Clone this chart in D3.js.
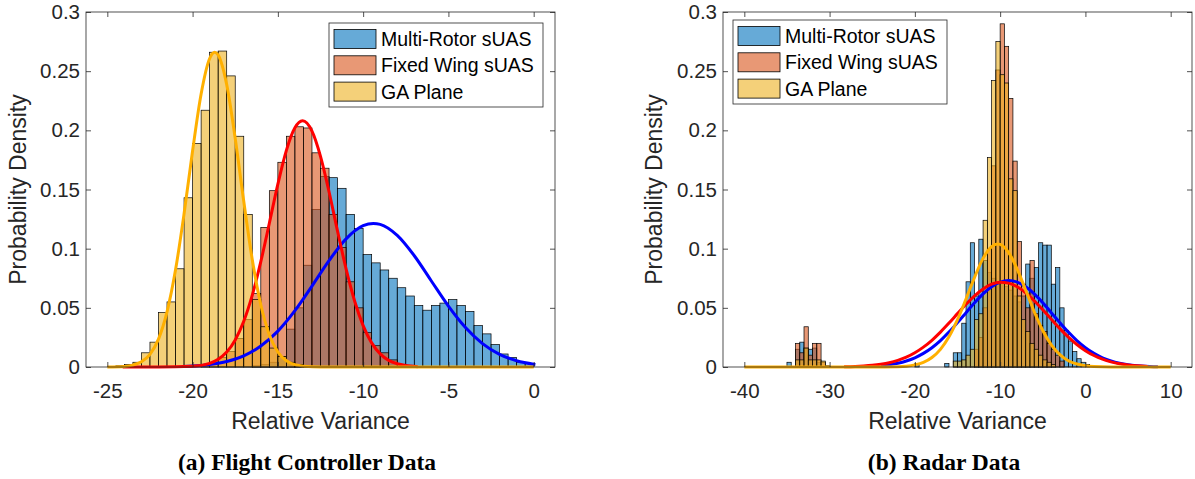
<!DOCTYPE html>
<html>
<head>
<meta charset="utf-8">
<script src="https://cdn.jsdelivr.net/npm/d3@7"></script>
<style>
  body { margin: 0; background: #fff; }
  svg { display: block; }
</style>
</head>
<body>
<svg id="chart" width="1195" height="479"></svg>
<script>
// histogram bins are 0.5 wide, values are probability densities
const binWidth = 0.5;
const seriesNames = ['Multi-Rotor sUAS', 'Fixed Wing sUAS', 'GA Plane'];
const yTicks = [0, 0.05, 0.1, 0.15, 0.2, 0.25, 0.3];

// (a) Flight Controller Data
const fcXTicks = [-25, -20, -15, -10, -5, 0];
const fcMultiStart = -16.5;
const fcMulti = [0.001, 0.002, 0.004, 0.009, 0.032, 0.050, 0.086, 0.133, 0.161, 0.160,
  0.151, 0.129, 0.117, 0.095, 0.088, 0.082, 0.075, 0.067, 0.060, 0.052,
  0.048, 0.052, 0.054, 0.057, 0.052, 0.047, 0.035, 0.028, 0.019, 0.011,
  0.008, 0.004, 0.003];
const fcFixedStart = -19.5;
const fcFixed = [0.002, 0.004, 0.008, 0.013, 0.024, 0.040, 0.062, 0.118, 0.149, 0.173,
  0.195, 0.203, 0.202, 0.181, 0.168, 0.129, 0.101, 0.072, 0.050, 0.029,
  0.018, 0.012, 0.006, 0.002];
const fcGaStart = -24.5;
const fcGa = [0.001, 0.002, 0.004, 0.012, 0.021, 0.046, 0.055, 0.083, 0.143, 0.189,
  0.217, 0.266, 0.267, 0.246, 0.195, 0.129, 0.057, 0.034, 0.016, 0.009,
  0.004, 0.002];

// fitted normal curves
const fcMultiFitX = [-20.6, -20, -19, -18, -17, -16, -15, -14, -13, -12, -11, -10, -9.4, -9, -8, -7, -6, -5, -4, -3, -2, -1, 0, 0.1];
const fcMultiFitY = [0.0005, 0.0008, 0.0021, 0.0046, 0.0094, 0.0177, 0.0303, 0.0476, 0.0684, 0.0899, 0.1083, 0.1194, 0.1213, 0.1205, 0.1112, 0.0940, 0.0727, 0.0515, 0.0334, 0.0198, 0.0107, 0.0053, 0.0024, 0.0022];
const fcFixedFitX = [-24.1, -22, -20, -19, -18.5, -18, -17.5, -17, -16.5, -16, -15.5, -15, -14.5, -14, -13.55, -13, -12.5, -12, -11.5, -11, -10.5, -10, -9.5, -9, -8.5, -8, -7.5, -6.8];
const fcFixedFitY = [0, 0, 0.0006, 0.0031, 0.0065, 0.0126, 0.0229, 0.0386, 0.0607, 0.0890, 0.1215, 0.1545, 0.1831, 0.2021, 0.208, 0.1993, 0.1780, 0.1481, 0.1148, 0.0829, 0.0558, 0.0350, 0.0204, 0.0111, 0.0056, 0.0027, 0.0012, 0.0003];
const fcGaFitX = [-25, -24, -23.5, -23, -22.5, -22, -21.5, -21, -20.5, -20, -19.5, -19, -18.7, -18.5, -18, -17.5, -17, -16.5, -16, -15.5, -15, -14.5, -14, -13, -12, 0];
const fcGaFitY = [0, 0.0005, 0.0016, 0.0044, 0.0107, 0.0236, 0.0466, 0.0821, 0.1295, 0.1827, 0.2307, 0.2607, 0.266, 0.2636, 0.2386, 0.1931, 0.1400, 0.0907, 0.0526, 0.0273, 0.0127, 0.0053, 0.0020, 0.0002, 0, 0];

// (b) Radar Data
const rdXTicks = [-40, -30, -20, -10, 0, 10];
const rdMultiStart = -35;
const rdMulti = [0.004, 0, 0.015, 0.021, 0.016, 0.015, 0.016, 0.004, 0, 0.001,
  0, 0, 0, 0, 0, 0, 0, 0, 0, 0,
  0, 0, 0, 0, 0, 0, 0, 0, 0, 0,
  0.003, 0, 0, 0, 0, 0, 0, 0.003, 0, 0.012,
  0.012, 0.037, 0.072, 0.105, 0.060, 0.108, 0.090, 0.080, 0.075, 0.070,
  0.072, 0.068, 0.065, 0.060, 0.055, 0.060, 0.087, 0.075, 0.084, 0.105,
  0.103, 0.103, 0.070, 0.084, 0.050, 0.031, 0.022, 0.013, 0.007, 0.004,
  0.002];
const rdFixedStart = -34;
const rdFixed = [0.020, 0.012, 0.034, 0.010, 0.020, 0.020, 0.004, 0, 0, 0,
  0, 0, 0, 0, 0, 0, 0, 0, 0, 0,
  0, 0, 0, 0, 0, 0, 0, 0, 0, 0,
  0, 0, 0, 0, 0, 0, 0, 0, 0, 0,
  0, 0, 0.015, 0.025, 0.050, 0.100, 0.170, 0.251, 0.290, 0.271,
  0.227, 0.174, 0.106, 0.070, 0.050, 0.090, 0.045, 0.035, 0.030, 0.020,
  0.015, 0.010, 0.005];
const rdGaStart = -34;
const rdGa = [0.006, 0.006, 0.016, 0.006, 0.006, 0.006, 0.005, 0, 0, 0,
  0, 0, 0, 0, 0, 0, 0, 0, 0, 0,
  0, 0, 0, 0, 0, 0, 0, 0, 0, 0,
  0, 0, 0, 0, 0, 0, 0, 0.005, 0.005, 0.006,
  0.010, 0.015, 0.040, 0.045, 0.124, 0.177, 0.242, 0.275, 0.247, 0.240,
  0.159, 0.149, 0.060, 0.040, 0.030, 0.020, 0.015, 0.010, 0.006, 0.004,
  0.002];

const rdMultiFitX = [-24, -23, -22, -21, -20, -19, -18, -17, -16, -15, -14, -13, -12, -11, -10, -9, -8, -7, -6, -5, -4, -3, -2, -1, 0, 1, 2, 3, 4, 5, 6, 7, 8, 8.5];
const rdMultiFitY = [0.0011, 0.0019, 0.0032, 0.0051, 0.0078, 0.0115, 0.0163, 0.0223, 0.0295, 0.0375, 0.0459, 0.0543, 0.0618, 0.0678, 0.0717, 0.0730, 0.0717, 0.0678, 0.0618, 0.0543, 0.0459, 0.0375, 0.0295, 0.0223, 0.0163, 0.0115, 0.0078, 0.0051, 0.0032, 0.0019, 0.0011, 0.0006, 0.0003, 0.00025];
const rdFixedFitX = [-28.3, -27, -26, -25, -24, -23, -22, -21, -20, -19, -18, -17, -16, -15, -14, -13, -12, -11, -10, -9, -8, -7, -6, -5, -4, -3, -2, -1, 0, 1, 2, 3, 4, 5, 6, 7.3];
const rdFixedFitY = [0.0002, 0.0004, 0.0008, 0.0014, 0.0023, 0.0036, 0.0056, 0.0083, 0.0120, 0.0168, 0.0226, 0.0295, 0.0371, 0.0451, 0.0530, 0.0602, 0.0660, 0.0700, 0.0716, 0.0709, 0.0678, 0.0627, 0.0560, 0.0483, 0.0403, 0.0324, 0.0253, 0.0190, 0.0138, 0.0097, 0.0066, 0.0043, 0.0027, 0.0017, 0.0010, 0.0005];
const rdGaFitX = [-40, -30, -25, -22, -21, -20, -19, -18, -17, -16, -15, -14, -13, -12, -11, -10.3, -10, -9, -8, -7, -6, -5, -4, -3, -2, -1, 0, 1, 3, 10];
const rdGaFitY = [0, 0, 0, 0.0003, 0.0007, 0.0018, 0.0039, 0.0080, 0.0149, 0.0255, 0.0400, 0.0575, 0.0758, 0.0918, 0.1018, 0.104, 0.1036, 0.0967, 0.0827, 0.0649, 0.0467, 0.0308, 0.0187, 0.0104, 0.0053, 0.0025, 0.0011, 0.0004, 0, 0];

const fillColors = ['#0072bd', '#d95319', '#edb120'];
const lineColors = ['#0000ff', '#ff0000', '#ffb000'];
const axisColor = '#262626';
const sans = "'Liberation Sans', Arial, Helvetica, sans-serif";

const svg = d3.select('#chart');

function drawPanel(p) {
  const g = svg.append('g');
  const x = d3.scaleLinear().domain(p.xDomain).range([p.left, p.right]);
  const y = d3.scaleLinear().domain([0, 0.3]).range([p.bottom, p.top]);

  // histograms, semi transparent like matlab's default FaceAlpha
  p.hists.forEach((h, i) => {
    const bins = h.values.map((v, k) => ({ x0: h.start + k * binWidth, v: v })).filter(d => d.v > 0);
    g.append('g').selectAll('rect')
      .data(bins)
      .join('rect')
      .attr('x', d => x(d.x0))
      .attr('width', d => x(d.x0 + binWidth) - x(d.x0))
      .attr('y', d => y(d.v))
      .attr('height', d => y(0) - y(d.v))
      .attr('fill', fillColors[i])
      .attr('fill-opacity', 0.6)
      .attr('stroke', '#000')
      .attr('stroke-width', 0.7);
  });

  const line = d3.line()
    .x(d => x(d[0]))
    .y(d => y(d[1]))
    .curve(d3.curveMonotoneX);

  p.fits.forEach((f, i) => {
    g.append('path')
      .datum(d3.zip(f.x, f.y))
      .attr('d', line)
      .attr('fill', 'none')
      .attr('stroke', lineColors[i])
      .attr('stroke-width', 3)
      .attr('stroke-linejoin', 'round');
  });

  // axes, ticks pointing inwards on all four sides
  const styleAxis = a => {
    a.select('.domain').remove();
    a.selectAll('line').attr('stroke', axisColor).attr('stroke-width', 0.8);
    a.selectAll('text').attr('fill', axisColor).style('font-family', sans).style('font-size', '20.5px');
  };
  g.append('g')
    .attr('transform', `translate(0,${p.bottom})`)
    .call(d3.axisBottom(x).tickValues(p.xTicks).tickFormat(d => String(d)).tickSize(-5).tickPadding(16))
    .call(styleAxis);
  g.append('g')
    .attr('transform', `translate(0,${p.top})`)
    .call(d3.axisTop(x).tickValues(p.xTicks).tickFormat('').tickSize(-5))
    .call(styleAxis);
  g.append('g')
    .attr('transform', `translate(${p.left},0)`)
    .call(d3.axisLeft(y).tickValues(yTicks).tickFormat(d => String(d)).tickSize(-5).tickPadding(6))
    .call(styleAxis);
  g.append('g')
    .attr('transform', `translate(${p.right},0)`)
    .call(d3.axisRight(y).tickValues(yTicks).tickFormat('').tickSize(-5))
    .call(styleAxis);

  g.append('rect')
    .attr('x', p.left).attr('y', p.top)
    .attr('width', p.right - p.left).attr('height', p.bottom - p.top)
    .attr('fill', 'none')
    .attr('stroke', axisColor)
    .attr('stroke-width', 0.8);

  g.append('text')
    .attr('x', (p.left + p.right) / 2)
    .attr('y', 429)
    .attr('text-anchor', 'middle')
    .attr('fill', axisColor)
    .style('font-family', sans)
    .style('font-size', '23px')
    .text('Relative Variance');

  g.append('text')
    .attr('transform', `translate(${p.yLabelX},${(p.top + p.bottom) / 2}) rotate(-90)`)
    .attr('text-anchor', 'middle')
    .attr('fill', axisColor)
    .style('font-family', sans)
    .style('font-size', '23px')
    .text('Probability Density');

  // legend
  const lg = g.append('g').attr('transform', `translate(${p.legendX},${p.legendY})`);
  lg.append('rect')
    .attr('width', 214).attr('height', 84)
    .attr('fill', '#fff')
    .attr('stroke', axisColor)
    .attr('stroke-width', 0.8);
  seriesNames.forEach((name, i) => {
    const cy = 16 + i * 26.3;
    lg.append('rect')
      .attr('x', 5).attr('y', cy - 9.5)
      .attr('width', 42).attr('height', 19)
      .attr('fill', fillColors[i]).attr('fill-opacity', 0.6)
      .attr('stroke', '#000').attr('stroke-width', 0.8);
    lg.append('text')
      .attr('x', 52).attr('y', cy + 7)
      .attr('fill', '#000')
      .style('font-family', sans)
      .style('font-size', '19.5px')
      .text(name);
  });

  svg.append('text')
    .attr('x', p.captionX)
    .attr('y', 470)
    .attr('text-anchor', 'middle')
    .attr('fill', '#000')
    .style('font-family', "'Liberation Serif', 'Times New Roman', serif")
    .style('font-weight', 'bold')
    .style('font-size', '23.5px')
    .text(p.caption);
}

drawPanel({
  left: 86, right: 555, top: 12, bottom: 367,
  xDomain: [-26.25, 1.25], xTicks: fcXTicks,
  hists: [
    { start: fcMultiStart, values: fcMulti },
    { start: fcFixedStart, values: fcFixed },
    { start: fcGaStart, values: fcGa }
  ],
  fits: [
    { x: fcMultiFitX, y: fcMultiFitY },
    { x: fcFixedFitX, y: fcFixedFitY },
    { x: fcGaFitX, y: fcGaFitY }
  ],
  yLabelX: 26, legendX: 329, legendY: 23,
  caption: '(a) Flight Controller Data', captionX: 307
});

drawPanel({
  left: 723, right: 1192, top: 12, bottom: 367,
  xDomain: [-42.5, 12.5], xTicks: rdXTicks,
  hists: [
    { start: rdMultiStart, values: rdMulti },
    { start: rdFixedStart, values: rdFixed },
    { start: rdGaStart, values: rdGa }
  ],
  fits: [
    { x: rdMultiFitX, y: rdMultiFitY },
    { x: rdFixedFitX, y: rdFixedFitY },
    { x: rdGaFitX, y: rdGaFitY }
  ],
  yLabelX: 662, legendX: 733, legendY: 20,
  caption: '(b) Radar Data', captionX: 944
});
</script>
</body>
</html>
